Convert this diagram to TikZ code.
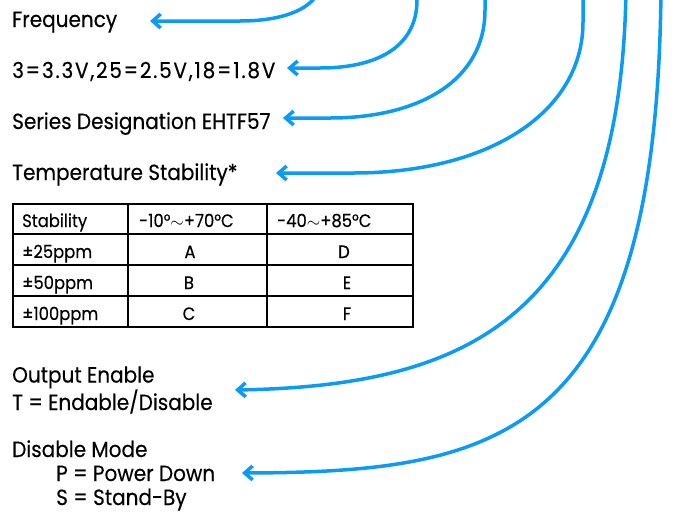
\documentclass[tikz,border=0pt]{standalone}
\usepackage{fontspec}
\setmainfont[FakeStretch=0.91,FakeBold=0.3]{Poppins}
\usetikzlibrary{arrows.meta}
\usetikzlibrary{positioning}
\definecolor{callout}{RGB}{10,155,245}

\tikzset{
  part text/.style={anchor=base west, inner sep=0pt, align=left,
    font=\fontsize{22}{26}\selectfont},
  cell text/.style={anchor=base west, inner sep=0pt,
    font=\fontsize{18}{20}\selectfont},
  cell line/.style={draw=black, line width=2.3pt},
  callout arrow/.style={draw=callout, line width=3.5pt, line cap=round,
    -{Straight Barb[length=8pt,width=14pt]}},
}

\begin{document}
\begin{tikzpicture}[x=1pt,y=-1pt]
  \useasboundingbox (0,0) rectangle (675,515);
  \clip (0,0) rectangle (675,515);

  % part number fields
  \node[part text] (freq)   at (12,27)  {Frequency};
  \node[part text] (volt)   at (12,78)  {\addfontfeature{LetterSpace=8}3=3.3V,25=2.5V,18=1.8V};
  \node[part text] (series) at (12,129) {Series Designation EHTF57};
  \node[part text] (temp)   at (12,180) {Temperature Stability*};
  \node[part text] (oe)     at (12,410) {Output Enable\\T = Endable/Disable};
  \node[part text, font=\fontsize{22}{24}\selectfont] (dm) at (12,505)
    {Disable Mode\\\hspace*{44pt}P = Power Down\\\hspace*{44pt}S = Stand-By};

  % stability table
  \draw[cell line] (13,204) rectangle (413,327);
  \foreach \y in {234,265,296}
    \draw[cell line] (13,\y) -- (413,\y);
  \draw[cell line] (128,204) -- (128,327);
  \draw[cell line] (267,204) -- (267,327);

  \node[cell text] (stab)  at (22,227)  {Stability};
  \node[cell text] (lo)    at (139,227) {-10°$\sim$+70°C};
  \node[cell text] (hi)    at (277,227) {-40$\sim$+85°C};
  \node[cell text] (p25)   at (22,258)  {±25ppm};
  \node[cell text] (p50)   at (22,289)  {±50ppm};
  \node[cell text] (p100)  at (22,320)  {±100ppm};
  \node[cell text, anchor=base] (ca) at (190,258) {A};
  \node[cell text, anchor=base] (cb) at (189,289) {B};
  \node[cell text, anchor=base] (cc) at (189,320) {C};
  \node[cell text, anchor=base] (cd) at (344,258) {D};
  \node[cell text, anchor=base] (ce) at (347,289) {E};
  \node[cell text, anchor=base] (cf) at (347,320) {F};

  % callouts
  \coordinate (freq-top)   at (321,-30);
  \coordinate (freq-tip)   at (150,21);
  \coordinate (volt-top)   at (417,-10);
  \coordinate (volt-tip)   at (287,68);
  \coordinate (series-top) at (485,-10);
  \coordinate (series-tip) at (283,118);
  \coordinate (temp-top)   at (583,-10);
  \coordinate (temp-tip)   at (276,173);
  \coordinate (oe-top)     at (626,-10);
  \coordinate (oe-tip)     at (235,390);
  \coordinate (dm-top)     at (661,-10);
  \coordinate (dm-tip)     at (242,473);

  \draw[callout arrow] (freq-top) -- (321,-20) .. controls (321,5) and (290,21) .. (240,21) -- (freq-tip);
  \draw[callout arrow] (volt-top) -- (417,0) .. controls (417,45) and (380,68) .. (320,68) -- (volt-tip);
  \draw[callout arrow] (series-top) -- (485,10) .. controls (485,80) and (420,118) .. (330,118) -- (series-tip);
  \draw[callout arrow] (temp-top) -- (583,22) .. controls (583,112) and (490,173) .. (353,173) -- (temp-tip);
  \draw[callout arrow] (oe-top) .. controls (621,320) and (465,386) .. (oe-tip);
  \draw[callout arrow] (dm-top) .. controls (657,440) and (500,472) .. (dm-tip);
\end{tikzpicture}
\end{document}
